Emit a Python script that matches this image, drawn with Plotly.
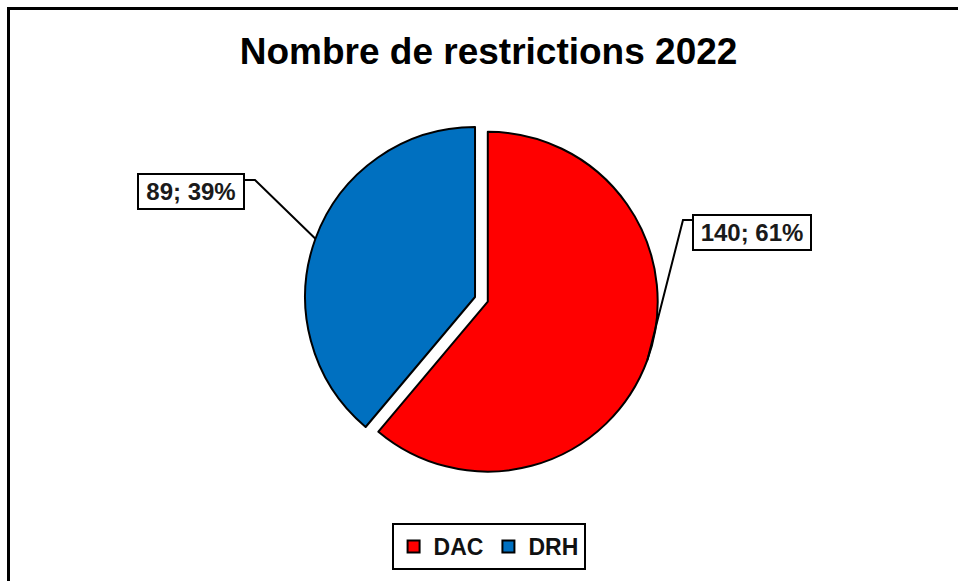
import math
import plotly.graph_objects as go

# Data
categories = ["DAC", "DRH"]
values = [140, 89]
colors = ["#FF0000", "#0070C0"]
pulls = [0.08, 0.0]

W, H = 958, 581
FONT = "Liberation Sans, Arial, sans-serif"

# Pie domain (paper fractions, margins are zero so paper == page)
dom_x = [0.3043, 0.6874]
dom_y = [0.173, 0.8046]

fig = go.Figure(
    go.Pie(
        labels=[f"<b>{c}</b>" for c in categories],
        values=values,
        sort=False,
        direction="clockwise",
        rotation=0,
        pull=pulls,
        marker=dict(colors=colors, line=dict(color="black", width=2)),
        textinfo="none",
        hoverinfo="label+value+percent",
        domain=dict(x=dom_x, y=dom_y),
    )
)

# Geometry of the pie in pixels, used for the leader lines
cx = (dom_x[0] + dom_x[1]) / 2 * W
cy = (1 - (dom_y[0] + dom_y[1]) / 2) * H
half = min((dom_x[1] - dom_x[0]) * W, (dom_y[1] - dom_y[0]) * H) / 2
r = half / (1 + max(pulls))

total = sum(values)
pcts = [round(v / total * 100) for v in values]

# Label boxes: (left, top) in px, and the elbow of the leader line
label_boxes = [
    dict(left=692, top=214, w=120, elbow=(683, 220), edge_x=692),
    dict(left=137, top=173, w=108, elbow=(255, 180), edge_x=245),
]


def px_to_paper(x, y):
    return x / W, 1 - y / H


shapes = []
annotations = []
cum = 0.0
for i, (v, p, box) in enumerate(zip(values, pcts, label_boxes)):
    mid = (cum + v / 2) / total * 2 * math.pi
    cum += v
    dx, dy = math.sin(mid), -math.cos(mid)
    ox = cx + pulls[i] * r * dx
    oy = cy + pulls[i] * r * dy
    ex, ey = ox + r * dx, oy + r * dy
    pts = [(ex, ey), box["elbow"], (box["edge_x"], box["elbow"][1])]
    path = "M " + " L ".join(
        f"{px_to_paper(x, y)[0]:.5f},{px_to_paper(x, y)[1]:.5f}" for x, y in pts
    )
    shapes.append(
        dict(type="path", xref="paper", yref="paper", path=path,
             line=dict(color="black", width=2))
    )
    lx, ly = px_to_paper(box["left"], box["top"])
    annotations.append(
        dict(
            x=lx, y=ly, xref="paper", yref="paper",
            xanchor="left", yanchor="top",
            text=f"<b>{v}; {p}%</b>",
            showarrow=False,
            font=dict(family=FONT, size=24, color="#1a1a1a"),
            bgcolor="white", bordercolor="black", borderwidth=2,
            borderpad=1, width=box["w"] - 6, height=31,
        )
    )

# Chart frame
shapes.append(
    dict(type="rect", xref="paper", yref="paper",
         x0=8.5 / W, x1=1.05, y0=-0.05, y1=1 - 8.5 / H,
         line=dict(color="black", width=3), layer="above")
)

fig.update_layout(
    width=W, height=H,
    margin=dict(l=0, r=0, t=0, b=0),
    paper_bgcolor="white",
    plot_bgcolor="white",
    title=dict(
        text="<b>Nombre de restrictions 2022</b>",
        x=0.51, xanchor="center",
        y=1 - 51 / H, yanchor="middle", yref="container",
        font=dict(family=FONT, size=37, color="black"),
    ),
    legend=dict(
        orientation="h",
        x=0.51, xanchor="center",
        y=1 - 570 / H, yanchor="bottom",
        bordercolor="black", borderwidth=2,
        bgcolor="white",
        font=dict(family=FONT, size=23, color="#111111"),
        itemsizing="constant",
    ),
    shapes=shapes,
    annotations=annotations,
    showlegend=True,
)

fig.write_html("out.html")
